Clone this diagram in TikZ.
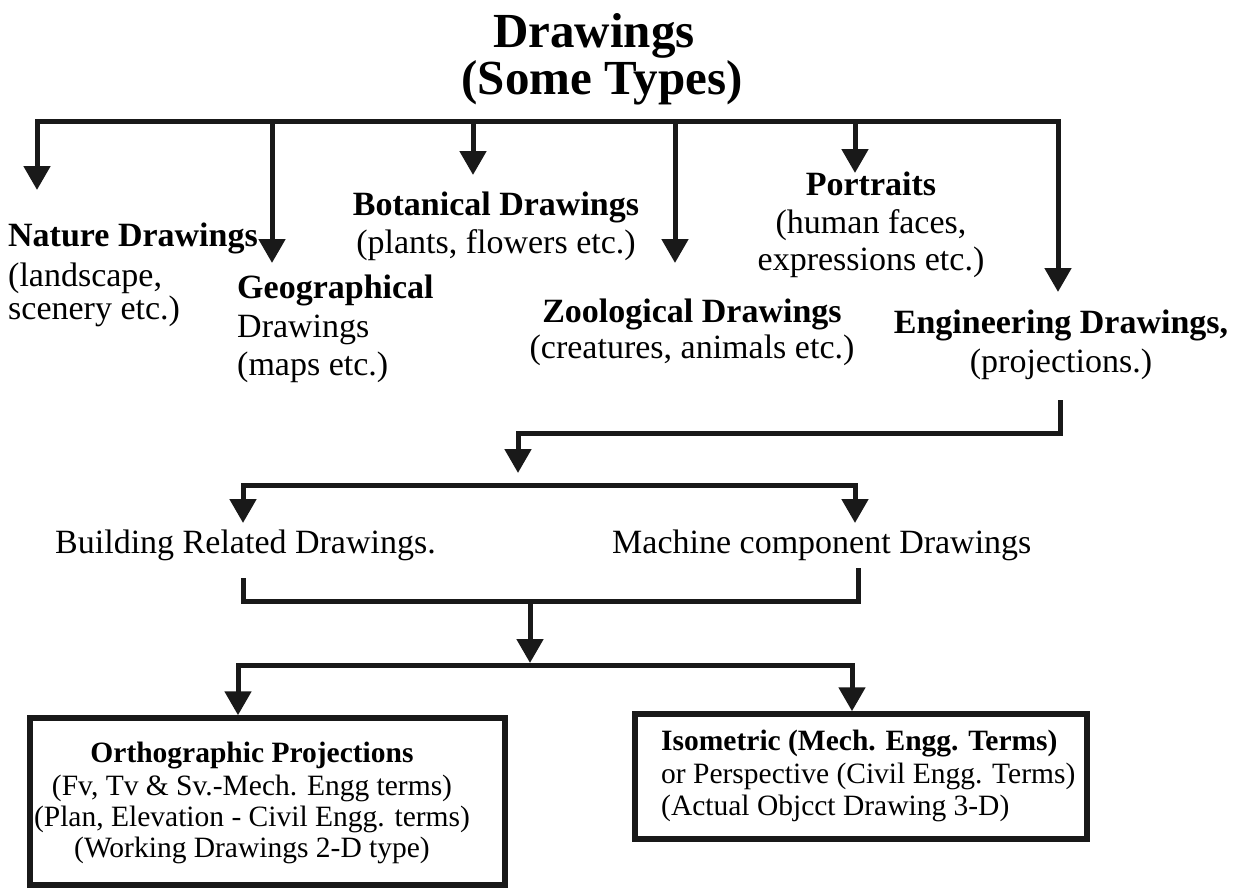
\documentclass[tikz,border=0pt]{standalone}
\usepackage{fontspec}
\setmainfont{Liberation Serif}
\usetikzlibrary{arrows.meta}
\begin{document}
\begin{tikzpicture}[x=1pt,y=-1pt,
  conn/.style={line width=5pt, line cap=butt, line join=miter, draw=black!90},
  arr/.style={conn, -{Triangle[width=26pt,length=24pt]}},
  ttl/.style={font=\fontsize{49}{49}\selectfont\bfseries, inner sep=0pt, anchor=base},
  hd/.style={font=\fontsize{34}{34}\selectfont\bfseries, inner sep=0pt},
  tx/.style={font=\fontsize{34}{34}\selectfont, inner sep=0pt},
  bhd/.style={font=\fontsize{29.5}{29.5}\selectfont\bfseries, inner sep=0pt},
  btx/.style={font=\fontsize{29.5}{29.5}\selectfont, inner sep=0pt},
  boxx/.style={draw=black!90, line width=5.5pt, inner sep=0pt}
]
\useasboundingbox (0,0) rectangle (1242,891);

% title
\node[ttl] (t1) at (594,48) {Drawings};
\node[ttl] (t2) at (602,94) {(Some Types)};

% bus points
\coordinate (bL) at (37,121);
\coordinate (bR) at (1058,121);
\coordinate (bM) at (600,121);
\coordinate (bGeo) at (272,121);
\coordinate (bBot) at (473,121);
\coordinate (bZoo) at (675,121);
\coordinate (bPor) at (855,121);

\coordinate (natTip) at (37,190);
\coordinate (geoTip) at (272,263);
\coordinate (botTip) at (473,175);
\coordinate (zooTip) at (675,263);
\coordinate (porTip) at (855,173);
\coordinate (engTip) at (1058,292);

% category texts
\node[hd, anchor=base west] (nat1) at (8,246) {Nature Drawings};
\node[tx, anchor=base west] (nat2) at (8,286) {(landscape,};
\node[tx, anchor=base west] (nat3) at (8,319) {scenery etc.)};

\node[hd, anchor=base west] (geo1) at (237,298) {Geographical};
\node[tx, anchor=base west] (geo2) at (237,337) {Drawings};
\node[tx, anchor=base west] (geo3) at (237,375) {(maps etc.)};

\node[hd, anchor=base] (bot1) at (496,215) {Botanical Drawings};
\node[tx, anchor=base] (bot2) at (496,253) {(plants, flowers etc.)};

\node[hd, anchor=base] (zoo1) at (692,322) {Zoological Drawings};
\node[tx, anchor=base] (zoo2) at (692,358) {(creatures, animals etc.)};

\node[hd, anchor=base] (por1) at (871,195) {Portraits};
\node[tx, anchor=base] (por2) at (871,233) {(human faces,};
\node[tx, anchor=base] (por3) at (871,270) {expressions etc.)};

\node[hd, anchor=base] (eng1) at (1061,333) {Engineering Drawings,};
\node[tx, anchor=base] (eng2) at (1061,372) {(projections.)};

% top connectors
\draw[arr] (bM) -- (bL) -- (natTip);
\draw[arr] (bM) -- (bR) -- (engTip);
\draw[arr] (bGeo) -- (geoTip);
\draw[arr] (bBot) -- (botTip);
\draw[arr] (bZoo) -- (zooTip);
\draw[arr] (bPor) -- (porTip);

% engineering to building / machine
\coordinate (e1) at (1060,400);
\coordinate (e2) at (1060,433);
\coordinate (e3) at (518,433);
\coordinate (e4) at (518,473);
\draw[arr] (e1) -- (e2) -- (e3) -- (e4);

\coordinate (b2M) at (540,485);
\coordinate (b2L) at (243,485);
\coordinate (b2R) at (855,485);
\coordinate (bldTip) at (243,523);
\coordinate (macTip) at (855,523);
\draw[arr] (b2M) -- (b2L) -- (bldTip);
\draw[arr] (b2M) -- (b2R) -- (macTip);

\node[tx, anchor=base west] (bld) at (55,553) {Building Related Drawings.};
\node[tx, anchor=base west] (mac) at (612,553) {Machine component Drawings};

% join
\coordinate (jLt) at (243,578);
\coordinate (jL) at (243,601);
\coordinate (jR) at (858,601);
\coordinate (jRt) at (858,568);
\coordinate (jC) at (530,601);
\draw[conn] (jLt) -- (jL) -- (jR) -- (jRt);

% boxes
\node[boxx, minimum width=475pt, minimum height=167pt] (ortho) at (267.5,801.5) {};
\node[boxx, minimum width=452pt, minimum height=125pt] (iso) at (861,776.5) {};

\coordinate (b3C) at (530,663);
\coordinate (b3M) at (530,665);
\coordinate (b3L) at (238,665);
\coordinate (b3R) at (852,665);
\draw[arr] (jC) -- (b3C);
\draw[arr] (b3M) -- (b3L) -- (b3L |- ortho.north);
\draw[arr] (b3M) -- (b3R) -- (b3R |- iso.north);

\node[bhd, anchor=base] (o1) at (252,762) {Orthographic Projections};
\node[btx, anchor=base] (o2) at (252,795) {(Fv, Tv \& Sv.-Mech. Engg terms)};
\node[btx, anchor=base] (o3) at (252,826) {(Plan, Elevation - Civil Engg. terms)};
\node[btx, anchor=base] (o4) at (252,857) {(Working Drawings 2-D type)};

\node[bhd, anchor=base west] (i1) at (661,750) {Isometric (Mech. Engg. Terms)};
\node[btx, anchor=base west] (i2) at (661,783) {or Perspective (Civil Engg. Terms)};
\node[btx, anchor=base west] (i3) at (661,815) {(Actual Objcct Drawing 3-D)};
\end{tikzpicture}
\end{document}
